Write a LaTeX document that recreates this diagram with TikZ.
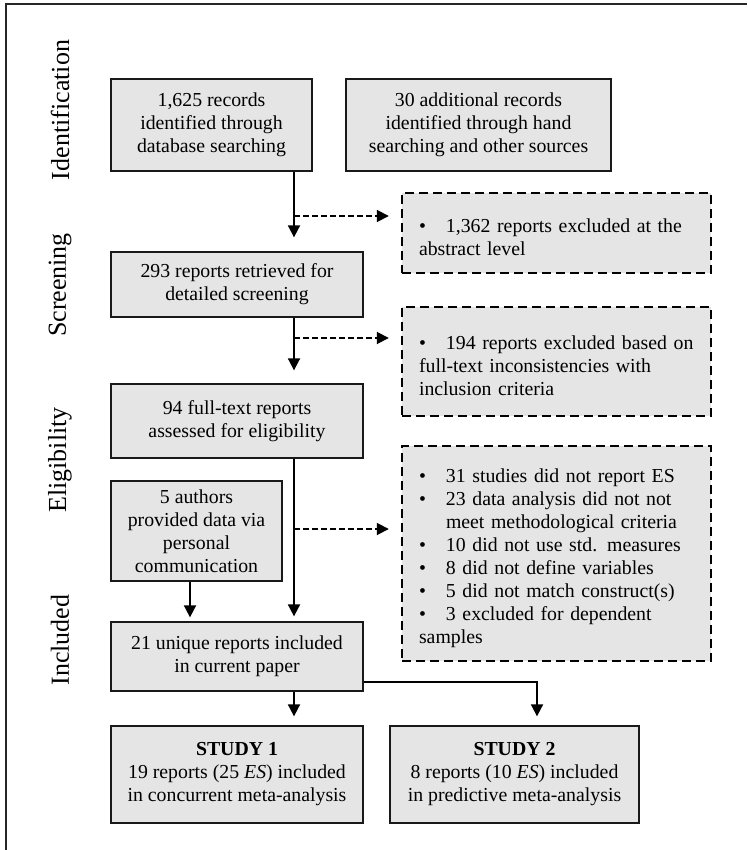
\documentclass[tikz,border=0pt]{standalone}
\usepackage{fontspec}
\setmainfont{Liberation Serif}
\usetikzlibrary{calc}
\usetikzlibrary{positioning}
\usetikzlibrary{arrows.meta}

\tikzset{
	box/.style={draw=black!90, line width=1.3pt, fill=black!10, align=center, inner sep=0pt},
	exbox/.style={draw=black, line width=2.4pt, dash pattern=on 9pt off 5pt, fill=black!10,
		text width=275pt, inner xsep=17pt, inner ysep=0pt, align=left},
	flow/.style={line width=1.8pt, -{Triangle[length=12pt, width=12pt]}},
	skip/.style={line width=1.8pt, dash pattern=on 6pt off 3pt, -{Triangle[length=12pt, width=12pt]}},
	phase/.style={rotate=90, font=\fontsize{26}{30}\selectfont}
}

\begin{document}
\begin{tikzpicture}[x=1pt, y=-1pt, font=\fontsize{19.8}{23}\selectfont]
		\newcommand\exitem[1]{
			% bullet with hanging text
			\par\noindent\hangindent=27pt\hangafter=1\makebox[27pt][l]{\textbullet}#1}
		
		\useasboundingbox (0, 0) rectangle (747, 850);
		\draw[black!85, line width=1.4pt] (6, 850) -- (6, 4) -- (747, 4);
		
		\node[phase] (ident) at (60, 110) {Identification};
		\node[phase] (screen) at (60, 285) {Screening};
		\node[phase] (elig) at (60, 460) {Eligibility};
		\node[phase] (incl) at (60, 640) {Included};
		
		\coordinate (spine) at (294, 0);
		\coordinate (ecol) at (190, 0);
		
		\node[box, minimum width=201pt, minimum height=92pt] (a) at (211.5, 125)
			{1,625 records\\identified through\\database searching};
		\node[box, minimum width=265pt, minimum height=92pt] (b) at (478.5, 125)
			{30 additional records\\identified through hand\\searching and other sources};
		\node[box, minimum width=252pt, minimum height=65pt] (c) at (237, 284.5)
			{293 reports retrieved for\\detailed screening};
		\node[box, minimum width=252pt, minimum height=74pt] (d) at (237, 421)
			{94 full-text reports\\assessed for eligibility};
		\node[box, minimum width=171pt, minimum height=100pt] (e) at (196.5, 531)
			{5 authors\\provided data via\\personal\\communication};
		\node[box, minimum width=252pt, minimum height=69pt] (f) at (237, 656.5)
			{21 unique reports included\\in current paper};
		\node[box, minimum width=252pt, minimum height=97pt] (s1) at (237, 774.5)
			{\textbf{STUDY 1}\\19 reports (25 \textit{ES}) included\\in concurrent meta-analysis};
		\node[box, minimum width=249pt, minimum height=97pt] (s2) at (514.5, 774.5)
			{\textbf{STUDY 2}\\8 reports (10 \textit{ES}) included\\in predictive meta-analysis};
		
		\node[exbox, minimum width=309pt, minimum height=80pt] (x1) at (556.5, 233)
			{\exitem{1,362 reports excluded at the\newline abstract level}};
		\node[exbox, minimum width=309pt, minimum height=109pt] (x2) at (556.5, 361.5)
			{\exitem{194 reports excluded based on\newline full-text inconsistencies with\newline inclusion criteria}};
		\node[exbox, minimum width=309pt, minimum height=215pt] (x3) at (556.5, 553.5)
			{\exitem{31 studies did not report ES}
			\exitem{23 data analysis did not not\newline meet methodological criteria}
			\exitem{10 did not use std. measures}
			\exitem{8 did not define variables}
			\exitem{5 did not match construct(s)}
			\exitem{3 excluded for dependent\newline samples}};
		
		\coordinate (j1) at (294, 216);
		\coordinate (j2) at (294, 338);
		\coordinate (j3) at (294, 529);
		\coordinate (bend) at (537, 682);
		
		\draw[flow, shorten >=14pt] (a.south -| spine) -- (c.north -| spine);
		\draw[flow, shorten >=13pt] (c.south -| spine) -- (d.north -| spine);
		\draw[flow, shorten >=5pt] (d.south -| spine) -- (f.north -| spine);
		\draw[flow, shorten >=4pt] (e.south -| ecol) -- (f.north -| ecol);
		\draw[flow, shorten >=9pt] (f.south -| spine) -- (s1.north -| spine);
		\draw[flow, shorten >=9pt] (bend -| f.east) -- (bend) -- (s2.north -| bend);
		
		\draw[skip, shorten >=12pt] (j1) -- (j1 -| x1.west);
		\draw[skip, shorten >=12pt] (j2) -- (j2 -| x2.west);
		\draw[skip, shorten >=12pt] (j3) -- (j3 -| x3.west);
		
	\end{tikzpicture}
\end{document}
